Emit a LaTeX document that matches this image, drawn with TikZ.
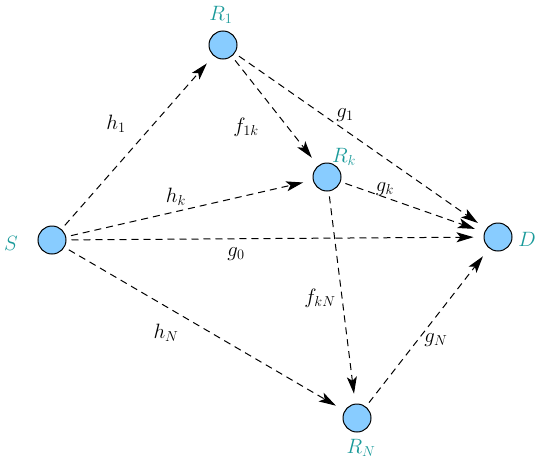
\documentclass[tikz,border=0pt]{standalone}
\usetikzlibrary{arrows.meta}
\definecolor{nodefill}{HTML}{88CCFF}
\definecolor{labteal}{HTML}{1A9A9A}
\begin{document}
\begin{tikzpicture}[x=1pt,y=-1pt,
  relay/.style={circle,draw=black,line width=1pt,fill=nodefill,minimum size=28pt,inner sep=0pt},
  nlab/.style={text=labteal,font=\huge},
  elab/.style={font=\huge},
  link/.style={dash pattern=on 7pt off 5pt,line width=1pt,-{Stealth[length=17pt,width=10pt,inset=4pt]},shorten >=10pt,shorten <=5pt}]
\useasboundingbox (0,0) rectangle (540,466);
\node[relay] (S) at (52,240) {};
\node[relay] (R1) at (223,45) {};
\node[relay] (Rk) at (327,177) {};
\node[relay] (D) at (498,237) {};
\node[relay] (RN) at (357,418) {};
\node[nlab] (lS) at (11,243) {$S$};
\node[nlab] (lR1) at (221,15) {$R_1$};
\node[nlab] (lRk) at (344,157) {$R_k$};
\node[nlab] (lD) at (527,239) {$D$};
\node[nlab] (lRN) at (361,448) {$R_N$};
\draw[link] (S) -- (R1);
\draw[link] (S) -- (Rk);
\draw[link] (S) -- (D);
\draw[link] (S) -- (RN);
\draw[link] (R1) -- (Rk);
\draw[link] (R1) -- (D);
\draw[link] (Rk) -- (D);
\draw[link] (Rk) -- (RN);
\draw[link] (RN) -- (D);
\node[elab] (h1) at (116,124) {$h_1$};
\node[elab] (f1k) at (246,127) {$f_{1k}$};
\node[elab] (g1) at (345,115) {$g_1$};
\node[elab] (hk) at (176,197) {$h_k$};
\node[elab] (gk) at (385,189) {$g_k$};
\node[elab] (g0) at (236,254) {$g_0$};
\node[elab] (fkN) at (320,298) {$f_{kN}$};
\node[elab] (hN) at (166,333) {$h_N$};
\node[elab] (gN) at (436,340) {$g_N$};
\end{tikzpicture}
\end{document}
